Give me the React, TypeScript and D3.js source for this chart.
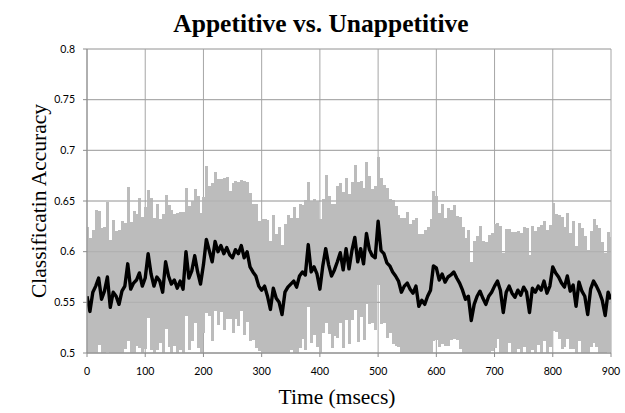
import React from "react";
import * as d3 from "d3";

// Time axis, ms (sampled every 5 ms)
const timeStart = 0;
const timeStep = 5;

// Mean classification accuracy at each sample
const meanAccuracy = [
  0.556, 0.541, 0.560, 0.566, 0.574, 0.553, 0.561, 0.575, 0.545, 0.560,
  0.556, 0.548, 0.561, 0.566, 0.588, 0.563, 0.569, 0.572, 0.579, 0.566,
  0.574, 0.598, 0.578, 0.566, 0.575, 0.571, 0.560, 0.590, 0.576, 0.568,
  0.572, 0.564, 0.571, 0.563, 0.600, 0.574, 0.581, 0.596, 0.580, 0.568,
  0.587, 0.612, 0.601, 0.590, 0.610, 0.600, 0.606, 0.598, 0.604, 0.597,
  0.594, 0.602, 0.598, 0.606, 0.594, 0.600, 0.585, 0.580, 0.576, 0.566,
  0.562, 0.566, 0.556, 0.543, 0.564, 0.554, 0.550, 0.538, 0.560, 0.565,
  0.568, 0.571, 0.565, 0.576, 0.580, 0.577, 0.607, 0.580, 0.585, 0.578,
  0.563, 0.586, 0.603, 0.587, 0.576, 0.582, 0.590, 0.599, 0.582, 0.603,
  0.583, 0.601, 0.614, 0.590, 0.603, 0.588, 0.618, 0.602, 0.596, 0.594,
  0.630, 0.601, 0.598, 0.589, 0.586, 0.580, 0.576, 0.571, 0.560, 0.566,
  0.569, 0.563, 0.559, 0.566, 0.546, 0.552, 0.548, 0.556, 0.562, 0.586,
  0.584, 0.572, 0.578, 0.570, 0.575, 0.577, 0.580, 0.574, 0.569, 0.562,
  0.553, 0.556, 0.532, 0.548, 0.556, 0.561, 0.554, 0.548, 0.556, 0.560,
  0.566, 0.571, 0.562, 0.540, 0.560, 0.566, 0.559, 0.555, 0.562, 0.557,
  0.565, 0.560, 0.540, 0.564, 0.560, 0.566, 0.562, 0.571, 0.559, 0.566,
  0.585, 0.579, 0.575, 0.569, 0.565, 0.576, 0.561, 0.567, 0.546, 0.570,
  0.561, 0.556, 0.538, 0.563, 0.571, 0.566, 0.560, 0.552, 0.537, 0.560,
  0.553,
];

// Half-length of the error bar at each sample
const errorHalf = [
  0.068, 0.072, 0.061, 0.075, 0.066, 0.070, 0.063, 0.074, 0.067, 0.071,
  0.064, 0.073, 0.069, 0.062, 0.076, 0.066, 0.071, 0.065, 0.074, 0.068,
  0.070, 0.063, 0.075, 0.067, 0.072, 0.061, 0.077, 0.066, 0.070, 0.073,
  0.065, 0.074, 0.068, 0.076, 0.063, 0.071, 0.069, 0.066, 0.075, 0.070,
  0.067, 0.073, 0.064, 0.078, 0.069, 0.072, 0.066, 0.075, 0.070, 0.063,
  0.074, 0.068, 0.071, 0.065, 0.076, 0.069, 0.073, 0.067, 0.071, 0.064,
  0.070, 0.066, 0.075, 0.068, 0.072, 0.063, 0.074, 0.069, 0.067, 0.071,
  0.065, 0.073, 0.068, 0.071, 0.066, 0.074, 0.062, 0.070, 0.067, 0.072,
  0.069, 0.066, 0.073, 0.068, 0.071, 0.065, 0.075, 0.069, 0.077, 0.070,
  0.074, 0.068, 0.072, 0.079, 0.067, 0.075, 0.070, 0.073, 0.066, 0.071,
  0.063, 0.072, 0.068, 0.074, 0.066, 0.071, 0.069, 0.065, 0.073, 0.067,
  0.070, 0.064, 0.072, 0.067, 0.071, 0.065, 0.073, 0.068, 0.070, 0.074,
  0.071, 0.066, 0.069, 0.063, 0.068, 0.064, 0.066, 0.061, 0.065, 0.062,
  0.060, 0.065, 0.058, 0.063, 0.059, 0.064, 0.057, 0.062, 0.060, 0.058,
  0.061, 0.057, 0.063, 0.059, 0.062, 0.056, 0.060, 0.064, 0.058, 0.061,
  0.059, 0.063, 0.057, 0.061, 0.060, 0.058, 0.064, 0.059, 0.062, 0.060,
  0.063, 0.058, 0.061, 0.065, 0.059, 0.062, 0.057, 0.063, 0.060, 0.058,
  0.062, 0.059, 0.064, 0.057, 0.061, 0.060, 0.063, 0.058, 0.062, 0.059,
  0.061,
];

const xTicks = [0, 100, 200, 300, 400, 500, 600, 700, 800, 900];
const yTicks = [0.5, 0.55, 0.6, 0.65, 0.7, 0.75, 0.8];
const yTickLabels = ["0.5", "0.55", "0.6", "0.65", "0.7", "0.75", "0.8"];

const title = "Appetitive vs. Unappetitive";
const xTitle = "Time (msecs)";
const yTitle = "Classificatin Accuracy";

const W = 625;
const H = 413;

export default function App() {
  const x = d3.scaleLinear().domain([0, 900]).range([87, 611]);
  const y = d3.scaleLinear().domain([0.5, 0.8]).range([353, 49]);

  const points = meanAccuracy.map((m, i) => ({
    t: timeStart + i * timeStep,
    m,
    e: errorHalf[i],
  }));

  const line = d3
    .line<{ t: number; m: number }>()
    .x((d) => x(d.t))
    .y((d) => y(d.m));

  const serif = "'Liberation Serif', 'Times New Roman', serif";
  const sans = "Lato, 'Open Sans', sans-serif";

  return (
    <svg
      width={W}
      height={H}
      style={{ position: "absolute", left: 0, top: 0, background: "#fff" }}
    >
      <defs>
        <clipPath id="plot-clip">
          <rect x={x(0)} y={y(0.8)} width={x(900) - x(0)} height={y(0.5) - y(0.8)} />
        </clipPath>
      </defs>

      {/* grid */}
      {yTicks.map((v) => (
        <line
          key={"gy" + v}
          x1={x(0)}
          x2={x(900)}
          y1={y(v)}
          y2={y(v)}
          stroke="#a6a6a6"
          strokeWidth={1}
        />
      ))}
      {xTicks.map((v) => (
        <line
          key={"gx" + v}
          x1={x(v)}
          x2={x(v)}
          y1={y(0.5)}
          y2={y(0.8)}
          stroke="#a6a6a6"
          strokeWidth={1}
        />
      ))}

      {/* error bars, one pixel column group per sample */}
      <g clipPath="url(#plot-clip)" shapeRendering="crispEdges">
        {points.map((d) => {
          const cx = Math.round(x(d.t));
          return (
            <rect
              key={"e" + d.t}
              x={cx - 1}
              width={3}
              y={y(d.m + d.e)}
              height={y(d.m - d.e) - y(d.m + d.e)}
              fill="#bcbcbc"
            />
          );
        })}
      </g>

      {/* gridlines show faintly through the band */}
      {yTicks.map((v) => (
        <line
          key={"go" + v}
          x1={x(0)}
          x2={x(900)}
          y1={y(v)}
          y2={y(v)}
          stroke="#9a9a9a"
          strokeOpacity={0.35}
          strokeWidth={1}
        />
      ))}

      {/* mean */}
      <path
        d={line(points) || ""}
        fill="none"
        stroke="#000"
        strokeWidth={3.4}
        strokeLinejoin="round"
        clipPath="url(#plot-clip)"
      />

      {/* axes */}
      <line x1={x(0)} x2={x(0)} y1={y(0.5)} y2={y(0.8)} stroke="#8c8c8c" />
      <line x1={x(0)} x2={x(900)} y1={y(0.5)} y2={y(0.5)} stroke="#8c8c8c" />
      {yTicks.map((v) => (
        <line key={"ty" + v} x1={x(0) - 4} x2={x(0)} y1={y(v)} y2={y(v)} stroke="#8c8c8c" />
      ))}
      {xTicks.map((v) => (
        <line key={"tx" + v} x1={x(v)} x2={x(v)} y1={y(0.5)} y2={y(0.5) + 4} stroke="#8c8c8c" />
      ))}

      {/* tick labels */}
      {yTicks.map((v, i) => (
        <text
          key={"ly" + v}
          x={x(0) - 12}
          y={y(v)}
          dy="0.35em"
          textAnchor="end"
          fontFamily={sans}
          fontSize={10.5}
          fill="#000"
        >
          {yTickLabels[i]}
        </text>
      ))}
      {xTicks.map((v) => (
        <text
          key={"lx" + v}
          x={x(v)}
          y={375}
          textAnchor="middle"
          fontFamily={sans}
          fontSize={10.5}
          fill="#000"
        >
          {v}
        </text>
      ))}

      {/* titles */}
      <text
        x={321}
        y={32}
        textAnchor="middle"
        fontFamily={serif}
        fontWeight="bold"
        fontSize={25.5}
        fill="#000"
      >
        {title}
      </text>
      <text
        x={337}
        y={404}
        textAnchor="middle"
        fontFamily={serif}
        fontSize={21.5}
        fill="#000"
      >
        {xTitle}
      </text>
      <text
        transform={`translate(46, 201) rotate(-90)`}
        textAnchor="middle"
        fontFamily={serif}
        fontSize={21.5}
        fill="#000"
      >
        {yTitle}
      </text>
    </svg>
  );
}
